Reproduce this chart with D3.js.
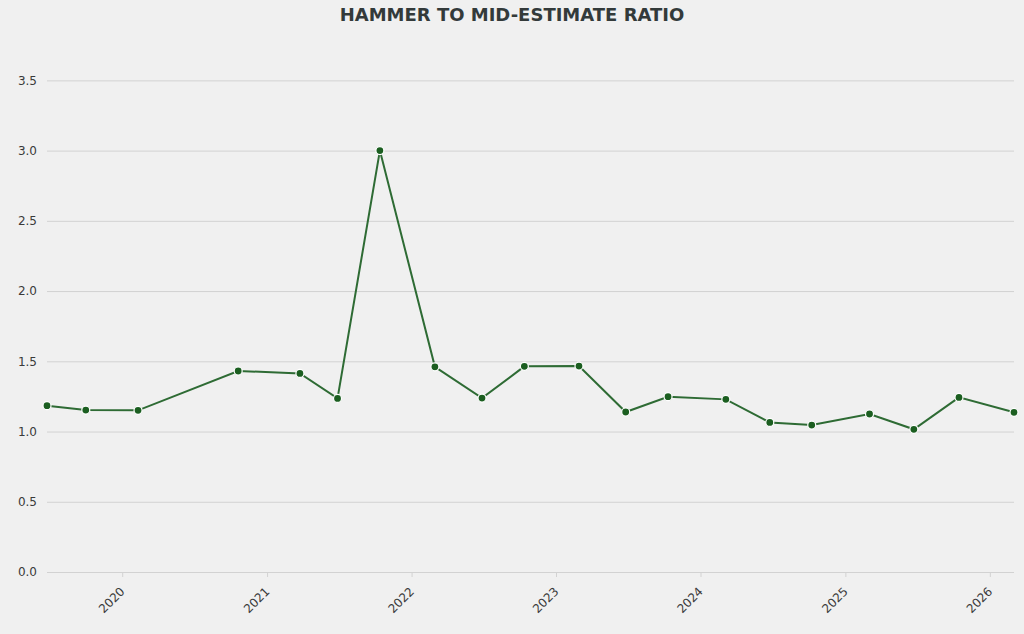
<!DOCTYPE html>
<html>
<head>
<meta charset="utf-8">
<script src="https://cdn.jsdelivr.net/npm/d3@7"></script>
<style>
  body { margin: 0; background: #f0f0f0; }
  svg { display: block; font-family: "DejaVu Sans", sans-serif; }
</style>
</head>
<body>
<main></main>
<script>
// sale dates and hammer / mid-estimate ratios
var saleDates = ["2019-06-25", "2019-10-01", "2020-02-10", "2020-10-20", "2021-03-25",
    "2021-06-28", "2021-10-13", "2022-03-01", "2022-06-28", "2022-10-13",
    "2023-02-28", "2023-06-26", "2023-10-11", "2024-03-05", "2024-06-24",
    "2024-10-08", "2025-03-03", "2025-06-23", "2025-10-15", "2026-03-03"];
var ratios = [1.184, 1.153, 1.151, 1.431, 1.414,
    1.236, 3.0, 1.461, 1.238, 1.464,
    1.466, 1.139, 1.248, 1.229, 1.065,
    1.046, 1.125, 1.016, 1.243, 1.137];
var yTicks = [0, 0.5, 1.0, 1.5, 2.0, 2.5, 3.0, 3.5];
var xTickYears = [2020, 2021, 2022, 2023, 2024, 2025, 2026];

var parse = d3.timeParse("%Y-%m-%d");
var points = saleDates.map(function (d, i) { return {date: parse(d), value: ratios[i]}; });

var width = 1024, height = 634;
var margin = {top: 27, right: 10, bottom: 62, left: 47};

var svg = d3.select("main")
    .append("svg")
    .attr("width", width)
    .attr("height", height);

svg.append("rect")
    .attr("width", width)
    .attr("height", height)
    .attr("fill", "#f0f0f0");

var x = d3.scaleTime()
    .domain(d3.extent(points, function (d) { return d.date; }))
    .range([margin.left, width - margin.right]);

var y = d3.scaleLinear()
    .domain([0, 3.88])
    .range([height - margin.bottom, margin.top]);

// horizontal grid + y labels
var yAxis = svg.append("g")
    .attr("transform", "translate(" + margin.left + ",0)")
    .call(d3.axisLeft(y)
        .tickValues(yTicks)
        .tickFormat(d3.format(".1f"))
        .tickSize(-(width - margin.left - margin.right))
        .tickPadding(10));
yAxis.attr("font-family", "DejaVu Sans").attr("font-size", 12);
yAxis.select(".domain").remove();
yAxis.selectAll(".tick line")
    .attr("stroke", "#d2d2d2")
    .attr("stroke-width", 1);
yAxis.selectAll(".tick text")
    .attr("fill", "#3a3a3a");

// x axis
var xAxis = svg.append("g")
    .attr("transform", "translate(0," + (height - margin.bottom) + ")")
    .call(d3.axisBottom(x)
        .tickValues(xTickYears.map(function (yr) { return new Date(yr, 0, 1); }))
        .tickFormat(d3.timeFormat("%Y"))
        .tickSize(5)
        .tickPadding(3));
xAxis.attr("font-family", "DejaVu Sans").attr("font-size", 12);
xAxis.select(".domain").remove();
xAxis.selectAll(".tick line").attr("stroke", "#d2d2d2");
xAxis.selectAll(".tick text")
    .attr("fill", "#3a3a3a")
    .attr("text-anchor", "end")
    .attr("dx", "-1.03em")
    .attr("dy", "0.69em")
    .attr("transform", "rotate(-45)");

// line
var line = d3.line()
    .x(function (d) { return x(d.date); })
    .y(function (d) { return y(d.value); });

svg.append("path")
    .datum(points)
    .attr("fill", "none")
    .attr("stroke", "#2e6b34")
    .attr("stroke-width", 2)
    .attr("d", line);

svg.append("g")
    .selectAll("circle")
    .data(points)
    .enter()
    .append("circle")
    .attr("cx", function (d) { return x(d.date); })
    .attr("cy", function (d) { return y(d.value); })
    .attr("r", 4)
    .attr("fill", "#1b5e20")
    .attr("stroke", "#fff")
    .attr("stroke-width", 1.2);

// title
svg.append("text")
    .attr("x", width / 2)
    .attr("y", 21)
    .attr("text-anchor", "middle")
    .attr("fill", "#333a3a")
    .style("font-size", "18px")
    .style("font-weight", "bold")
    .text("HAMMER TO MID-ESTIMATE RATIO");
</script>
</body>
</html>
